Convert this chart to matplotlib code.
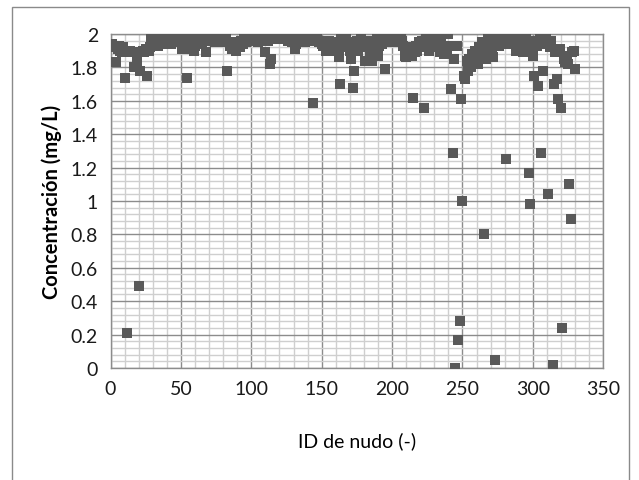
import matplotlib
matplotlib.use("Agg")
import matplotlib.pyplot as plt
from matplotlib.patches import Rectangle
from matplotlib.ticker import MultipleLocator
import numpy as np

# ID de nudo 1..330 y concentración
node_id = np.arange(1, 331)
conc = [
    1.94, 1.93, 1.92, 1.83, 1.91, 1.93, 1.90, 1.89, 1.92, 1.74,
    1.89, 0.21, 1.89, 1.90, 1.89, 1.89, 1.80, 1.89, 1.84, 0.49,
    1.78, 1.89, 1.90, 1.89, 1.91, 1.75, 1.90, 1.92, 1.97, 1.93,
    1.95, 1.94, 1.97, 1.93, 1.96, 1.99, 2.00, 1.94, 1.96, 1.95,
    1.98, 1.97, 1.94, 1.99, 1.96, 1.98, 1.99, 1.97, 1.95, 1.98,
    1.91, 1.93, 1.91, 1.74, 1.95, 1.98, 1.96, 1.94, 1.90, 1.93,
    1.97, 1.95, 1.98, 1.96, 1.94, 1.97, 1.99, 1.89, 1.98, 1.97,
    1.96, 1.98, 1.97, 1.95, 1.97, 1.98, 1.96, 1.97, 1.95, 1.97,
    1.96, 1.98, 1.78, 1.95, 1.93, 1.91, 1.94, 1.92, 1.90, 1.93,
    1.95, 1.92, 1.96, 1.94, 1.97, 1.95, 1.98, 1.96, 1.97, 1.98,
    1.96, 1.98, 1.97, 1.99, 1.95, 1.98, 1.96, 1.97, 1.99, 1.89,
    1.98, 1.96, 1.82, 1.85, 1.98, 1.99, 1.97, 1.99, 1.98, 1.99,
    1.98, 1.99, 1.97, 1.98, 1.99, 1.96, 1.98, 1.97, 1.95, 1.97,
    1.91, 1.94, 1.97, 1.98, 1.96, 1.98, 1.97, 1.95, 1.97, 1.98,
    1.96, 1.99, 1.97, 1.59, 1.98, 1.96, 1.97, 1.95, 1.96, 1.94,
    1.93, 1.95, 1.90, 1.92, 1.96, 1.94, 1.91, 1.95, 1.93, 1.90,
    1.92, 1.86, 1.70, 1.99, 1.96, 1.94, 1.97, 1.92, 1.95, 1.90,
    1.85, 1.68, 1.78, 1.93, 1.96, 1.90, 1.94, 1.97, 1.92, 1.95,
    1.84, 1.93, 1.96, 1.90, 1.94, 1.84, 1.95, 1.92, 1.97, 1.87,
    1.93, 1.96, 1.94, 1.97, 1.79, 1.95, 1.98, 1.96, 1.97, 1.95,
    1.98, 1.96, 2.00, 1.97, 1.95, 1.98, 1.96, 1.93, 1.87, 1.86,
    1.88, 1.92, 1.90, 1.87, 1.62, 1.89, 1.93, 1.90, 1.95, 1.92,
    1.96, 1.94, 1.56, 1.97, 1.93, 1.90, 1.96, 1.98, 1.94, 1.97,
    1.92, 1.95, 1.98, 1.89, 1.94, 1.91, 1.88, 1.93, 1.90, 2.00,
    1.93, 1.67, 1.29, 1.85, 0.00, 1.93, 0.17, 0.28, 1.61, 1.00,
    1.75, 1.73, 1.84, 1.78, 1.85, 1.80, 1.88, 1.83, 1.90, 1.86,
    1.82, 1.92, 1.87, 1.95, 0.80, 1.90, 1.85, 1.97, 1.88, 1.94,
    1.91, 1.86, 0.05, 1.96, 1.98, 1.93, 1.97, 1.95, 1.99, 1.96,
    1.25, 1.98, 1.94, 1.99, 1.97, 1.95, 1.98, 1.90, 1.96, 1.98,
    1.97, 1.94, 1.89, 1.96, 1.98, 1.95, 1.17, 0.98, 1.93, 1.87,
    1.75, 1.96, 1.93, 1.69, 1.97, 1.29, 1.78, 1.95, 1.98, 1.94,
    1.04, 1.92, 1.96, 0.02, 1.70, 1.89, 1.73, 1.61, 1.91, 1.56,
    0.24, 1.85, 1.83, 1.87, 1.82, 1.10, 0.89, 1.89, 1.90, 1.79,
]

x_ticks = [0, 50, 100, 150, 200, 250, 300, 350]
y_ticks = [0, 0.2, 0.4, 0.6, 0.8, 1, 1.2, 1.4, 1.6, 1.8, 2]
y_labels = ['0', '0.2', '0.4', '0.6', '0.8', '1', '1.2', '1.4', '1.6', '1.8', '2']

font = ['Lato', 'DejaVu Sans']

fig = plt.figure(figsize=(6.39, 4.81), dpi=100)
ax = fig.add_axes([0.173, 0.233, 0.771, 0.694])

# marco exterior del gráfico
fig.patches.append(Rectangle((12 / 639, -0.02), 617 / 639, 1.003, transform=fig.transFigure,
                             fill=False, edgecolor='#8a8a8a', linewidth=1.0))

ax.scatter(node_id, conc, marker='s', s=42, color='#595959', zorder=3, linewidths=0)

ax.set_xlim(0, 350)
ax.set_ylim(0, 2)
ax.set_xticks(x_ticks)
ax.set_yticks(y_ticks)
ax.set_yticklabels(y_labels)
ax.xaxis.set_minor_locator(MultipleLocator(10))
ax.yaxis.set_minor_locator(MultipleLocator(0.04))
ax.grid(True, which='minor', color='#cfcfcf', linewidth=1.0, zorder=0)
ax.grid(True, which='major', color='#8c8c8c', linewidth=1.0, zorder=1)
ax.set_axisbelow(True)
ax.tick_params(which='both', length=0, pad=9)
for lbl in ax.get_xticklabels() + ax.get_yticklabels():
    lbl.set_family(font)
    lbl.set_fontsize(14)
    lbl.set_color('#1a1a1a')
for s in ax.spines.values():
    s.set_color('#8c8c8c')
    s.set_linewidth(1.0)

ax.set_xlabel('ID de nudo (-)', family=font, fontsize=14, labelpad=24)
ax.set_ylabel('Concentración (mg/L)', family=font,
              fontsize=14.5, fontweight='bold', labelpad=6)

fig.savefig('out.png', dpi=100)
